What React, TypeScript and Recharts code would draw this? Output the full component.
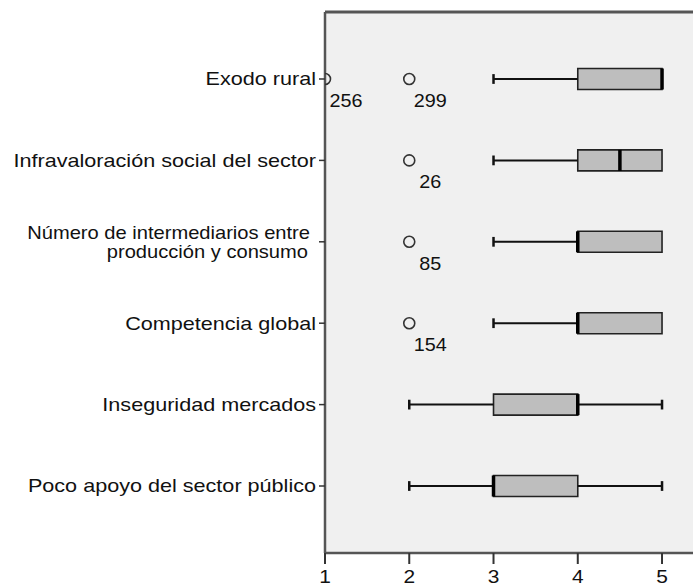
import React from "react";
import {
  ComposedChart,
  XAxis,
  YAxis,
  CartesianGrid,
  Scatter,
  ReferenceArea,
  ReferenceLine,
} from "recharts";

const categories = [
  "Exodo rural",
  "Infravaloración social del sector",
  "Número de intermediarios entre\nproducción y consumo",
  "Competencia global",
  "Inseguridad mercados",
  "Poco apoyo del sector público",
];
const whiskerLow = [3, 3, 3, 3, 2, 2];
const q1 = [4, 4, 4, 4, 3, 3];
const median = [5, 4.5, 4, 4, 4, 3];
const q3 = [5, 5, 5, 5, 4, 4];
const whiskerHigh = [5, 5, 5, 5, 5, 5];

const outlierRows = [0, 0, 1, 2, 3];
const outlierValues = [1, 2, 2, 2, 2];
const outlierIds = ["256", "299", "26", "85", "154"];

const xTicks = [1, 2, 3, 4, 5];

const FONT = "'Liberation Sans', Arial, sans-serif";
const BOX_HALF = 0.129;
const CAP_HALF = 0.06;

const outlierData = outlierRows.map((row, i) => ({
  x: outlierValues[i],
  y: row,
  id: outlierIds[i],
}));

// reference text is a bit wider than Liberation Sans, so stretch it horizontally
const YTick = (props: any) => {
  const { x, y, payload } = props;
  const lines = categories[payload.value].split("\n");
  if (lines.length === 1) {
    return (
      <g transform={`translate(${x - 1},${y})`}>
        <text transform="scale(1.2,1)" x={0} y={0} dy="0.35em" textAnchor="end" fontSize={18} fill="#111" fontFamily={FONT}>
          {lines[0]}
        </text>
      </g>
    );
  }
  return (
    <g>
      <g transform={`translate(${x - 7},${y - 3})`}>
        <text transform="scale(1.15,1)" x={0} y={0} textAnchor="end" fontSize={17.5} fill="#111" fontFamily={FONT}>
          {lines[0]}
        </text>
      </g>
      <g transform={`translate(${x - 9},${y + 16})`}>
        <text transform="scale(1.15,1)" x={0} y={0} textAnchor="end" fontSize={17.5} fill="#111" fontFamily={FONT}>
          {lines[1]}
        </text>
      </g>
    </g>
  );
};

const XTick = (props: any) => {
  const { x, y, payload } = props;
  return (
    <g transform={`translate(${x},${y})`}>
      <text transform="scale(1.1,1)" x={0} y={0} dy="0.9em" textAnchor="middle" fontSize={19} fill="#111" fontFamily={FONT}>
        {payload.value}
      </text>
    </g>
  );
};

const Outlier = (props: any) => {
  const { cx, cy, payload } = props;
  return (
    <g>
      <circle cx={cx} cy={cy} r={5.5} fill="none" stroke="#333" strokeWidth={1.6} />
      <g transform={`translate(${cx + 21},${cy + 28})`}>
        <text transform="scale(1.1,1)" x={0} y={0} textAnchor="middle" fontSize={18} fill="#111" fontFamily={FONT}>
          {payload.id}
        </text>
      </g>
    </g>
  );
};

export default function App() {
  const marks: React.ReactNode[] = [];
  categories.forEach((_, i) => {
    // lower whisker + cap
    marks.push(
      <ReferenceLine key={`wl${i}`} segment={[{ x: whiskerLow[i], y: i }, { x: q1[i], y: i }]} stroke="#111" strokeWidth={2} />
    );
    marks.push(
      <ReferenceLine key={`cl${i}`} segment={[{ x: whiskerLow[i], y: i - CAP_HALF }, { x: whiskerLow[i], y: i + CAP_HALF }]} stroke="#111" strokeWidth={2.5} />
    );
    if (whiskerHigh[i] > q3[i]) {
      marks.push(
        <ReferenceLine key={`wh${i}`} segment={[{ x: q3[i], y: i }, { x: whiskerHigh[i], y: i }]} stroke="#111" strokeWidth={2} />
      );
      marks.push(
        <ReferenceLine key={`ch${i}`} segment={[{ x: whiskerHigh[i], y: i - CAP_HALF }, { x: whiskerHigh[i], y: i + CAP_HALF }]} stroke="#111" strokeWidth={2.5} />
      );
    }
    marks.push(
      <ReferenceArea key={`b${i}`} x1={q1[i]} x2={q3[i]} y1={i - BOX_HALF} y2={i + BOX_HALF} fill="#bebebe" fillOpacity={1} stroke="#222" strokeWidth={1.6} />
    );
    marks.push(
      <ReferenceLine key={`m${i}`} segment={[{ x: median[i], y: i - BOX_HALF }, { x: median[i], y: i + BOX_HALF }]} stroke="#000" strokeWidth={3.5} />
    );
  });

  return (
    <div style={{ position: "absolute", left: 0, top: 0, width: 693, height: 586, overflow: "hidden", background: "#fff" }}>
      <ComposedChart width={720} height={586} margin={{ top: 12, right: 0, bottom: 0, left: 0 }}>
        <CartesianGrid horizontal={false} vertical={false} fill="#f0f0f0" />
        <XAxis
          type="number"
          dataKey="x"
          domain={[1, 5.688]}
          ticks={xTicks}
          allowDataOverflow
          height={33}
          tickSize={11}
          tickMargin={2}
          axisLine={{ stroke: "#555", strokeWidth: 2.5 }}
          tickLine={{ stroke: "#333", strokeWidth: 2 }}
          tick={<XTick />}
        />
        <YAxis
          type="number"
          dataKey="y"
          domain={[-0.823, 5.823]}
          reversed
          ticks={[0, 1, 2, 3, 4, 5]}
          allowDataOverflow
          width={325}
          tickSize={6}
          tickMargin={2}
          axisLine={{ stroke: "#555", strokeWidth: 2.5 }}
          tickLine={{ stroke: "#333", strokeWidth: 1.5 }}
          tick={<YTick />}
        />
        <ReferenceLine y={-0.823} stroke="#555" strokeWidth={3} />
        {marks}
        <Scatter data={outlierData} shape={<Outlier />} isAnimationActive={false} />
      </ComposedChart>
    </div>
  );
}
